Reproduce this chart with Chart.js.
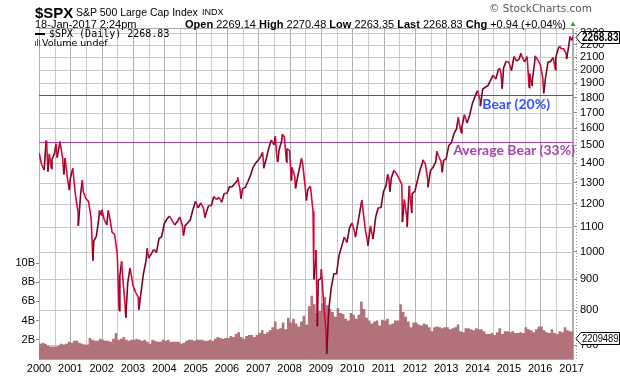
<!DOCTYPE html>
<html>
<head>
<meta charset="utf-8">
<script src="https://cdn.jsdelivr.net/npm/chart.js@4.4.1/dist/chart.umd.min.js"></script>
<style>
  body { margin: 0; background: #fff; }
  #wrap { position: relative; width: 620px; height: 376px; overflow: hidden; font-family: "Liberation Sans", Arial, sans-serif; color: #000; }
  canvas { position: absolute; left: 0; top: 0; }
  .t { position: absolute; white-space: nowrap; line-height: 1; }
</style>
</head>
<body>
<div id="wrap">
  <canvas id="chart" width="620" height="376"></canvas>
  <div class="t" style="left:35px;top:5px;font-size:15px;font-weight:bold">$SPX</div>
  <div class="t" style="left:76px;top:7px;font-size:10.5px">S&amp;P 500 Large Cap Index</div>
  <div class="t" style="left:202px;top:8px;font-size:9px">INDX</div>
  <div class="t" style="left:489px;top:3px;font-size:10.5px;color:#555;font-family:'DejaVu Sans'">© StockCharts.com</div>
  <div class="t" style="left:35px;top:19px;font-size:11px">18-Jan-2017 2:24pm</div>
  <div class="t" style="right:54px;top:19px;font-size:11px"><b>Open</b> 2269.14 <b>High</b> 2270.48 <b>Low</b> 2263.35 <b>Last</b> 2268.83 <b>Chg</b> +0.94 (+0.04%)</div>
  <div class="t" style="left:569px;top:20px;font-size:8px;color:#2e9b3a">▲</div>
  <div style="position:absolute;left:35px;top:33px;width:10px;height:2px;background:#000"></div>
  <div class="t" style="left:49px;top:29px;font-size:10px;font-family:'DejaVu Sans Mono',monospace">$SPX (Daily) 2268.83</div>
  <div style="position:absolute;left:35px;top:41px;width:1px;height:5px;background:#555"></div>
  <div style="position:absolute;left:37px;top:39px;width:1px;height:7px;background:#555"></div>
  <div style="position:absolute;left:39px;top:40px;width:1px;height:6px;background:#555"></div>
  <div class="t" style="left:42px;top:38px;font-size:9.5px;font-family:'DejaVu Sans'">Volume undef</div>
</div>
<script>
// month-end closes, Jan 2000 .. Dec 2016
const monthlyCloses = [
  1394, 1366, 1499, 1452, 1421, 1455, 1431, 1518, 1437, 1429, 1315, 1320,
  1366, 1240, 1160, 1249, 1256, 1224, 1211, 1134, 1041, 1060, 1139, 1148,
  1130, 1107, 1147, 1077, 1067, 990, 912, 916, 815, 886, 936, 880,
  856, 841, 848, 917, 964, 975, 990, 1008, 996, 1051, 1058, 1112,
  1131, 1145, 1126, 1107, 1121, 1141, 1102, 1104, 1115, 1130, 1174, 1212,
  1181, 1204, 1181, 1157, 1192, 1191, 1234, 1220, 1229, 1207, 1249, 1248,
  1280, 1281, 1295, 1311, 1270, 1270, 1277, 1304, 1336, 1378, 1401, 1418,
  1438, 1407, 1421, 1482, 1531, 1503, 1455, 1474, 1527, 1549, 1481, 1468,
  1379, 1331, 1323, 1386, 1400, 1280, 1267, 1283, 1166, 969, 896, 903,
  826, 735, 798, 873, 919, 919, 987, 1021, 1057, 1036, 1096, 1115,
  1074, 1104, 1169, 1187, 1089, 1031, 1102, 1049, 1141, 1183, 1181, 1258,
  1286, 1327, 1326, 1364, 1345, 1321, 1292, 1219, 1131, 1253, 1247, 1258,
  1312, 1366, 1408, 1398, 1310, 1362, 1379, 1407, 1441, 1412, 1416, 1426,
  1498, 1515, 1569, 1598, 1631, 1606, 1686, 1633, 1682, 1757, 1806, 1848,
  1783, 1859, 1872, 1884, 1924, 1960, 1931, 2003, 1972, 2018, 2068, 2059,
  1995, 2105, 2068, 2086, 2107, 2063, 2104, 1972, 1920, 2079, 2080, 2044,
  1940, 1932, 2060, 2065, 2097, 2099, 2174, 2171, 2168, 2126, 2199, 2239
];

// intra-month swing closes
const swingDates = [
  "2000-01-03", "2000-03-24", "2000-04-14", "2000-05-23", "2000-07-17", "2000-09-01", "2000-10-18", "2000-12-20",
  "2001-01-30", "2001-04-04", "2001-05-21", "2001-09-21", "2001-12-05",
  "2002-01-04", "2002-03-19", "2002-07-23", "2002-08-22", "2002-10-09", "2002-11-27",
  "2003-03-11", "2003-06-17", "2004-08-12", "2005-04-20", "2006-05-05", "2006-06-13",
  "2007-02-20", "2007-03-05", "2007-07-19", "2007-08-15", "2007-10-09", "2007-11-26",
  "2008-01-22", "2008-03-10", "2008-05-19", "2008-07-15", "2008-10-10", "2008-11-04", "2008-11-20",
  "2009-01-06", "2009-03-09",
  "2010-02-08", "2010-04-23", "2010-07-02",
  "2011-02-18", "2011-03-16", "2011-08-08", "2011-10-03", "2011-10-27", "2011-11-25",
  "2012-04-02", "2012-06-01", "2012-09-14", "2012-11-15",
  "2013-05-21", "2013-06-24",
  "2014-02-03", "2014-09-18", "2014-10-15",
  "2015-05-21", "2015-08-25", "2015-09-29", "2015-11-03",
  "2016-02-11", "2016-06-27", "2016-08-15", "2016-11-04", "2016-12-13",
  "2017-01-18"
];
const swingValues = [
  1455, 1527, 1357, 1373, 1510, 1521, 1342, 1265,
  1374, 1103, 1313, 966, 1170,
  1173, 1170, 798, 963, 777, 939,
  801, 1012, 1063, 1138, 1326, 1224,
  1460, 1374, 1553, 1407, 1565, 1407,
  1311, 1273, 1427, 1215, 899, 1006, 752,
  935, 677,
  1057, 1217, 1023,
  1343, 1257, 1119, 1099, 1285, 1159,
  1419, 1278, 1466, 1353,
  1669, 1573,
  1742, 2011, 1862,
  2131, 1868, 1884, 2110,
  1829, 2001, 2190, 2085, 2272,
  2268.83
];

// average daily volume (billions), Jan 2000 .. Jan 2017
const monthlyVolume = [
  1.8, 1.6, 1.7, 1.6, 1.4, 1.3, 1.3, 1.3, 1.4, 1.6, 1.5, 1.6,
  1.8, 1.7, 1.9, 1.9, 1.7, 1.6, 1.5, 1.5, 2.2, 2.0, 1.9, 1.9,
  2.1, 2.0, 1.9, 1.9, 1.8, 2.1, 2.7, 2.0, 2.1, 2.3, 2.0, 1.9,
  2.0, 2.0, 2.1, 2.0, 1.9, 2.0, 1.8, 1.6, 2.0, 1.9, 1.8, 1.8,
  2.0, 1.9, 2.0, 1.8, 1.8, 1.8, 1.8, 1.6, 1.7, 1.9, 2.0, 2.0,
  1.9, 2.0, 2.0, 2.0, 1.9, 1.9, 2.0, 1.9, 2.1, 2.3, 2.2, 2.1,
  2.2, 2.2, 2.4, 2.3, 2.6, 2.8, 2.3, 2.1, 2.4, 2.5, 2.5, 2.3,
  2.5, 2.7, 3.0, 2.6, 2.8, 3.0, 3.3, 3.9, 3.1, 3.2, 3.8, 3.1,
  4.3, 3.8, 4.2, 3.7, 3.4, 3.9, 4.5, 3.6, 5.5, 6.6, 5.7, 4.8,
  5.0, 5.8, 6.5, 5.6, 5.2, 4.9, 4.4, 5.3, 4.8, 4.7, 4.2, 4.0,
  4.8, 4.6, 4.2, 4.6, 6.0, 5.2, 4.3, 4.0, 3.7, 3.9, 4.0, 3.5,
  4.1, 4.0, 4.2, 3.6, 3.7, 4.0, 4.0, 5.7, 4.9, 4.4, 3.9, 3.3,
  3.8, 3.8, 3.6, 3.5, 3.7, 3.6, 3.3, 2.9, 3.3, 3.4, 3.3, 3.2,
  3.3, 3.3, 3.1, 3.2, 3.3, 3.6, 2.9, 2.8, 3.2, 3.2, 3.1, 3.0,
  3.2, 3.1, 3.1, 2.9, 2.6, 2.6, 2.7, 2.5, 2.8, 3.2, 2.6, 2.9,
  2.9, 2.8, 2.9, 2.7, 2.7, 2.8, 2.7, 3.3, 3.1, 3.0, 2.8, 3.1,
  3.4, 3.4, 3.0, 2.8, 2.7, 3.1, 2.7, 2.6, 2.9, 2.8, 3.3, 3.0,
  2.9
];

const yearTicks = [2000, 2000.5, 2001, 2001.5, 2002, 2002.5, 2003, 2003.5, 2004, 2004.5, 2005, 2005.5,
  2006, 2006.5, 2007, 2007.5, 2008, 2008.5, 2009, 2009.5, 2010, 2010.5, 2011, 2011.5, 2012, 2012.5,
  2013, 2013.5, 2014, 2014.5, 2015, 2015.5, 2016, 2016.5, 2017];
const priceTicks = [700, 800, 900, 1000, 1100, 1200, 1300, 1400, 1500, 1600, 1700, 1800, 1900, 2000, 2100, 2200, 2300];
const volumeTicks = [2, 4, 6, 8, 10];

const lastClose = 2268.83;
const lastVolume = 2.209489;
const bearDrops = [20, 33];
const bearLabels = ["Bear (20%)", "Average Bear (33%)"];
const bearColors = ["#3550ff", "#a646aa"];
const bearLabelX = [2014.15, 2013.22];

const RED = "#d8083c";

function decYear(s) {
  const [y, m, d] = s.split("-").map(Number);
  const t0 = Date.UTC(y, 0, 1), t1 = Date.UTC(y + 1, 0, 1);
  return y + (Date.UTC(y, m - 1, d) - t0) / (t1 - t0);
}

const pricePts = monthlyCloses.map((v, i) => ({ x: 2000 + (i + 1) / 12 - 0.002, y: v }))
  .concat(swingDates.map((d, i) => ({ x: decYear(d), y: swingValues[i] })))
  .sort((a, b) => a.x - b.x);

const volPts = monthlyVolume.map((v, i) => ({ x: 2000 + i / 12, y: v }));
volPts.push({ x: decYear("2017-01-18"), y: monthlyVolume[monthlyVolume.length - 1] });

const FONT = "'Liberation Sans', Arial, sans-serif";

const overlay = {
  id: "overlay",
  beforeDatasetsDraw(chart) {
    const { ctx, chartArea: a, scales } = chart;
    const bearY = bearDrops.map(p => Math.round(scales.price.getPixelForValue(lastClose * (1 - p / 100))) + 0.5);
    ctx.save();
    ctx.lineWidth = 1;
    // grid
    yearTicks.forEach(v => {
      const x = Math.round(scales.x.getPixelForValue(v)) + 0.5;
      ctx.strokeStyle = Number.isInteger(v) ? "#b0b0b0" : "#cbcbcb";
      ctx.beginPath();
      ctx.moveTo(x, a.top);
      ctx.lineTo(x, a.bottom);
      ctx.stroke();
    });
    ctx.strokeStyle = "#c8c8c8";
    priceTicks.forEach(v => {
      const y = Math.round(scales.price.getPixelForValue(v)) + 0.5;
      if (bearY.some(b => Math.abs(b - y) < 4)) return;
      ctx.beginPath();
      ctx.moveTo(a.left, y);
      ctx.lineTo(a.right, y);
      ctx.stroke();
    });
    bearY.forEach((y, i) => {
      ctx.strokeStyle = bearColors[i];
      ctx.beginPath();
      ctx.moveTo(a.left, y);
      ctx.lineTo(a.right, y);
      ctx.stroke();
    });
    ctx.restore();
  },
  afterDatasetsDraw(chart) {
    const { ctx, scales } = chart;
    ctx.save();
    ctx.font = "bold 14px Lato, 'Open Sans', sans-serif";
    ctx.textBaseline = "top";
    bearDrops.forEach((p, i) => {
      const y = scales.price.getPixelForValue(lastClose * (1 - p / 100));
      ctx.fillStyle = bearColors[i];
      ctx.fillText(bearLabels[i], scales.x.getPixelForValue(bearLabelX[i]), y + 2);
    });
    ctx.restore();
  },
  afterDraw(chart) {
    const { ctx, chartArea: a, scales } = chart;
    ctx.save();
    ctx.strokeStyle = "#aaa";
    ctx.lineWidth = 1;
    ctx.beginPath();
    ctx.moveTo(a.left, a.top + 0.5);
    ctx.lineTo(a.right, a.top + 0.5);
    ctx.stroke();

    // dotted minor-tick strip on the price axis
    ctx.strokeStyle = "#999";
    ctx.setLineDash([1, 2]);
    ctx.beginPath();
    ctx.moveTo(a.right + 3.5, a.top);
    ctx.lineTo(a.right + 3.5, a.bottom);
    ctx.stroke();
    ctx.setLineDash([]);

    const tag = (y, text, font) => {
      const x0 = a.right + 3, x1 = 619.5;
      ctx.beginPath();
      ctx.moveTo(x0, y);
      ctx.lineTo(x0 + 5, y - 6);
      ctx.lineTo(x1, y - 6);
      ctx.lineTo(x1, y + 6);
      ctx.lineTo(x0 + 5, y + 6);
      ctx.closePath();
      ctx.fillStyle = "#fff";
      ctx.fill();
      ctx.strokeStyle = "#000";
      ctx.lineWidth = 1;
      ctx.stroke();
      ctx.fillStyle = "#000";
      ctx.font = font;
      ctx.textBaseline = "middle";
      ctx.textAlign = "left";
      ctx.fillText(text, x0 + 6, y + 0.5, x1 - x0 - 7);
    };
    tag(Math.round(scales.price.getPixelForValue(lastClose)) + 0.5, "2268.83", "bold 12px " + FONT);
    tag(Math.round(scales.vol.getPixelForValue(lastVolume)) + 0.5, "2209489", "10px " + FONT);
    ctx.restore();
  }
};

new Chart(document.getElementById("chart"), {
  type: "line",
  data: {
    datasets: [
      {
        label: "$SPX",
        data: pricePts,
        xAxisID: "x",
        yAxisID: "price",
        borderColor: RED,
        borderWidth: 1.6,
        pointRadius: 0,
        fill: false,
        order: 0,
        segment: { borderColor: c => (c.p1.parsed.y >= c.p0.parsed.y ? "#7a0622" : RED) }
      },
      {
        label: "Volume",
        data: volPts,
        xAxisID: "x",
        yAxisID: "vol",
        stepped: "after",
        fill: "origin",
        backgroundColor: "#b2727a",
        borderWidth: 0,
        pointRadius: 0,
        order: 1
      }
    ]
  },
  options: {
    responsive: false,
    animation: false,
    devicePixelRatio: 1,
    layout: { padding: { top: 28, left: 0, right: 0, bottom: 0 } },
    plugins: { legend: { display: false }, tooltip: { enabled: false } },
    scales: {
      x: {
        type: "linear",
        min: 2000,
        max: decYear("2017-01-18"),
        afterBuildTicks: s => { s.ticks = yearTicks.map(v => ({ value: v })); },
        afterFit: s => { s.height = 17; },
        grid: { drawOnChartArea: false, drawTicks: false },
        border: { color: "#aaa" },
        ticks: {
          autoSkip: false, maxRotation: 0, padding: 3, color: "#000",
          font: { size: 11, family: FONT },
          callback: v => (Number.isInteger(v) ? String(v) : "")
        }
      },
      vol: {
        type: "linear",
        position: "left",
        min: 0,
        max: 34.5,
        afterBuildTicks: s => { s.ticks = volumeTicks.map(v => ({ value: v })); },
        afterFit: s => { s.width = 39; },
        grid: { drawOnChartArea: false, tickLength: 3, color: "#888" },
        border: { color: "#aaa" },
        ticks: { padding: 1, color: "#000", font: { size: 11, family: FONT }, callback: v => v + "B" }
      },
      price: {
        type: "logarithmic",
        position: "right",
        min: 663.6,
        max: 2347,
        afterBuildTicks: s => { s.ticks = priceTicks.map(v => ({ value: v })); },
        afterFit: s => { s.width = 47; },
        grid: { drawOnChartArea: false, tickLength: 4, color: "#888" },
        border: { color: "#aaa" },
        ticks: { padding: 3, color: "#000", font: { size: 11, family: FONT }, callback: v => String(v) }
      }
    }
  },
  plugins: [overlay]
});
</script>
</body>
</html>
